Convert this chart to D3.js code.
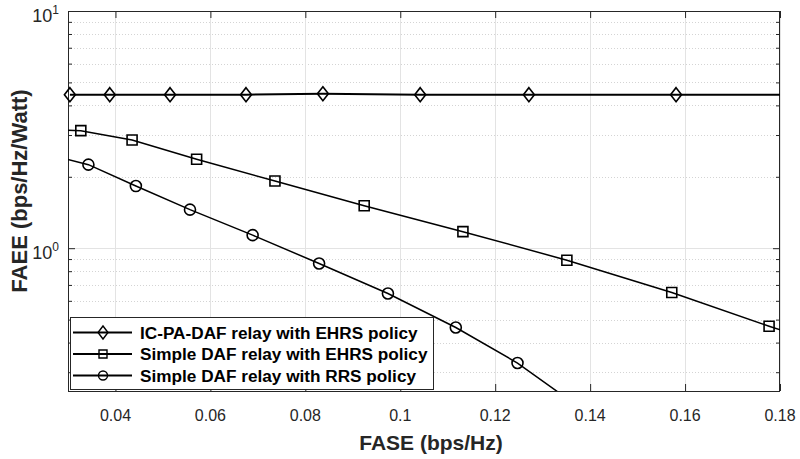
<!DOCTYPE html>
<html>
<head>
<meta charset="utf-8">
<script src="https://cdn.jsdelivr.net/npm/d3@7"></script>
<style>
  body { margin: 0; background: #fff; }
  svg { display: block; font-family: "Liberation Sans", Arial, Helvetica, sans-serif; }
  .ticklab { font-size: 16px; fill: #262626; }
  .declab { font-size: 18px; fill: #262626; }
</style>
</head>
<body>
<div id="chart"></div>
<script>
// x axis ticks (FASE, bps/Hz)
var xTicks = [0.04, 0.06, 0.08, 0.1, 0.12, 0.14, 0.16, 0.18];
var xTickLabels = ['0.04', '0.06', '0.08', '0.1', '0.12', '0.14', '0.16', '0.18'];

// y axis (log) decades and minor ticks
var yDecades = [1, 10];
var yDecadeExp = ['0', '1'];
var yMinor = [0.3, 0.4, 0.5, 0.6, 0.7, 0.8, 0.9, 2, 3, 4, 5, 6, 7, 8, 9];

var seriesNames = [
  'IC-PA-DAF relay with EHRS policy',
  'Simple DAF relay with EHRS policy',
  'Simple DAF relay with RRS policy'
];

// IC-PA-DAF relay, EHRS policy
var icpaFase = [0.0304, 0.0388, 0.0515, 0.0675, 0.0837, 0.1042, 0.1271, 0.1581, 0.195];
var icpaFaee = [4.44, 4.44, 4.44, 4.44, 4.48, 4.44, 4.44, 4.44, 4.44];

// simple DAF relay, EHRS policy
var ehrsFase = [0.027, 0.0327, 0.0435, 0.0571, 0.0736, 0.0924, 0.1132, 0.1351, 0.1572, 0.1777, 0.199];
var ehrsFaee = [3.16, 3.13, 2.86, 2.37, 1.92, 1.51, 1.174, 0.89, 0.65, 0.469, 0.34];

// simple DAF relay, RRS policy
var rrsFase = [0.027, 0.0343, 0.0443, 0.0557, 0.0689, 0.0829, 0.0974, 0.1117, 0.1247, 0.1368];
var rrsFaee = [2.45, 2.25, 1.828, 1.454, 1.135, 0.862, 0.644, 0.463, 0.328, 0.22];

var width = 800, height = 459;
// plot box in pixels (note: "top" is reserved on window, so use pTop etc.)
var pLeft = 68, pRight = 780, pTop = 11, pBottom = 391;
var axisColor = '#262626';

var x = d3.scaleLinear().domain([0.03, 0.18]).range([pLeft, pRight]);
var y = d3.scaleLog().domain([0.25, 10]).range([pBottom, pTop]);

var svg = d3.select('#chart').append('svg')
  .attr('width', width)
  .attr('height', height);

svg.append('defs').append('clipPath').attr('id', 'plotclip')
  .append('rect')
  .attr('x', pLeft).attr('y', pTop)
  .attr('width', pRight - pLeft).attr('height', pBottom - pTop);

// grid: minor dotted first, then major solid
svg.append('g').selectAll('line').data(yMinor).enter().append('line')
  .attr('x1', pLeft).attr('x2', pRight)
  .attr('y1', function(d){ return Math.round(y(d)) + 0.5; })
  .attr('y2', function(d){ return Math.round(y(d)) + 0.5; })
  .attr('stroke', '#d4d4d4')
  .attr('stroke-dasharray', '1,2');

svg.append('g').selectAll('line').data(xTicks).enter().append('line')
  .attr('x1', function(d){ return Math.round(x(d)) + 0.5; })
  .attr('x2', function(d){ return Math.round(x(d)) + 0.5; })
  .attr('y1', pTop).attr('y2', pBottom)
  .attr('stroke', '#e3e3e3');

svg.append('g').selectAll('line').data(yDecades).enter().append('line')
  .attr('x1', pLeft).attr('x2', pRight)
  .attr('y1', function(d){ return Math.round(y(d)) + 0.5; })
  .attr('y2', function(d){ return Math.round(y(d)) + 0.5; })
  .attr('stroke', '#e3e3e3');

// axes with inward ticks on all four sides (labels drawn separately below)
svg.append('g').attr('transform', 'translate(0,' + pBottom + ')')
  .call(d3.axisBottom(x).tickValues(xTicks).tickFormat('').tickSize(-7));
svg.append('g').attr('transform', 'translate(0,' + pTop + ')')
  .call(d3.axisTop(x).tickValues(xTicks).tickFormat('').tickSize(-7));

svg.append('g').attr('transform', 'translate(' + pLeft + ',0)')
  .call(d3.axisLeft(y).tickValues(yDecades).tickFormat('').tickSize(-7));
svg.append('g').attr('transform', 'translate(' + pLeft + ',0)')
  .call(d3.axisLeft(y).tickValues(yMinor).tickFormat('').tickSize(-4));
svg.append('g').attr('transform', 'translate(' + pRight + ',0)')
  .call(d3.axisRight(y).tickValues(yDecades).tickFormat('').tickSize(-7));
svg.append('g').attr('transform', 'translate(' + pRight + ',0)')
  .call(d3.axisRight(y).tickValues(yMinor).tickFormat('').tickSize(-4));

svg.selectAll('.domain').remove();
svg.selectAll('.tick line').attr('stroke', axisColor);

// x tick labels
svg.append('g').selectAll('text').data(xTicks).enter().append('text')
  .attr('class', 'ticklab')
  .attr('x', function(d){ return x(d); })
  .attr('y', 421)
  .attr('text-anchor', 'middle')
  .text(function(d, i){ return xTickLabels[i]; });

// y tick labels 10^n
var yl = svg.append('g').selectAll('text').data(yDecades).enter().append('text')
  .attr('class', 'declab')
  .attr('x', 59)
  .attr('y', function(d){ return y(d) + 11; })
  .attr('text-anchor', 'end');
yl.append('tspan').text('10');
yl.append('tspan').attr('dy', -8).style('font-size', '12px')
  .text(function(d, i){ return yDecadeExp[i]; });

// box
svg.append('rect')
  .attr('x', pLeft + 0.5).attr('y', pTop + 0.5)
  .attr('width', pRight - pLeft - 1).attr('height', pBottom - pTop)
  .attr('fill', 'none').attr('stroke', axisColor);

// axis titles
svg.append('text')
  .attr('x', 431).attr('y', 450)
  .attr('text-anchor', 'middle')
  .style('font-size', '21px').attr('font-weight', 'bold')
  .attr('fill', axisColor)
  .text('FASE (bps/Hz)');

svg.append('text')
  .attr('transform', 'translate(27,191) rotate(-90)')
  .attr('text-anchor', 'middle')
  .style('font-size', '22px').attr('font-weight', 'bold')
  .attr('fill', axisColor)
  .text('FAEE (bps/Hz/Watt)');

// markers
var diamond = function(w, h){ return 'M0,' + (-h/2) + 'L' + (w/2) + ',0L0,' + (h/2) + 'L' + (-w/2) + ',0Z'; };
var square = function(s){ return 'M' + (-s/2) + ',' + (-s/2) + 'h' + s + 'v' + s + 'h' + (-s) + 'Z'; };
var circle = function(r){ return 'M' + r + ',0A' + r + ',' + r + ' 0 1,1 ' + (-r) + ',0A' + r + ',' + r + ' 0 1,1 ' + r + ',0Z'; };

var series = [
  { xs: icpaFase, ys: icpaFaee, lw: 2, marker: diamond(11, 14), legendMarker: diamond(10, 13) },
  { xs: ehrsFase, ys: ehrsFaee, lw: 1.5, marker: square(10), legendMarker: square(8) },
  { xs: rrsFase, ys: rrsFaee, lw: 1.5, marker: circle(5.5), legendMarker: circle(4.5) }
];

var line = d3.line()
  .x(function(d){ return x(d[0]); })
  .y(function(d){ return y(d[1]); });

var plot = svg.append('g');
series.forEach(function(s){
  var pts = s.xs.map(function(v, i){ return [v, s.ys[i]]; });
  plot.append('path')
    .attr('d', line(pts))
    .attr('clip-path', 'url(#plotclip)')
    .attr('fill', 'none')
    .attr('stroke', '#000')
    .attr('stroke-width', s.lw);
  var inside = pts.filter(function(p){
    return p[0] >= 0.03 && p[0] <= 0.18 && p[1] >= 0.25 && p[1] <= 10;
  });
  plot.selectAll(null).data(inside).enter().append('path')
    .attr('transform', function(d){ return 'translate(' + x(d[0]) + ',' + y(d[1]) + ')'; })
    .attr('d', s.marker)
    .attr('fill', 'none')
    .attr('stroke', '#000')
    .attr('stroke-width', 1.6);
});

// legend
var legend = svg.append('g');
legend.append('rect')
  .attr('x', 70.5).attr('y', 317.5)
  .attr('width', 363).attr('height', 72)
  .attr('fill', '#fff')
  .attr('stroke', axisColor);

var rowY = [332.5, 354, 375.5];
series.forEach(function(s, i){
  legend.append('line')
    .attr('x1', 73).attr('x2', 132)
    .attr('y1', rowY[i]).attr('y2', rowY[i])
    .attr('stroke', '#000').attr('stroke-width', 2.2);
  legend.append('path')
    .attr('transform', 'translate(103,' + rowY[i] + ')')
    .attr('d', s.legendMarker)
    .attr('fill', 'none')
    .attr('stroke', '#000')
    .attr('stroke-width', 1.4);
  legend.append('text')
    .attr('x', 140).attr('y', rowY[i] + 6)
    .style('font-size', '17.2px').attr('font-weight', 'bold')
    .attr('fill', '#000')
    .text(seriesNames[i]);
});
</script>
</body>
</html>
